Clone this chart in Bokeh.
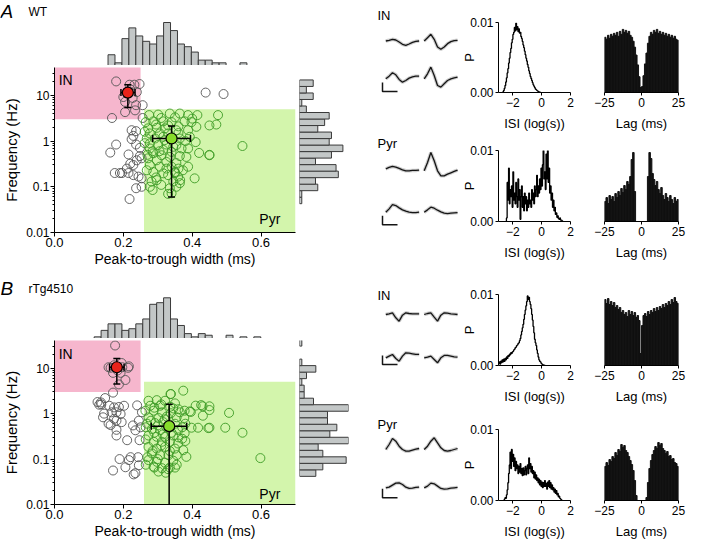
import numpy as np
from bokeh.plotting import figure
from bokeh.layouts import row, column
from bokeh.models import Range1d, FixedTicker, CustomJSTickFormatter
from bokeh.core.properties import value
from bokeh.embed import file_html
from bokeh.resources import INLINE

FONT = "Liberation Sans"

# ------------------------------------------------------------------ data
# classification regions
IN_MAX_W, IN_MIN_F = 0.25, 3.0
PYR_MIN_W, PYR_MAX_F = 0.26, 5.0

# Panel A (WT) scatter: (peak-to-trough width ms, frequency Hz)
a_in = [(0.179, 20.2), (0.218, 17.1), (0.232, 17.1), (0.247, 17.7), (0.200, 9.2), (0.205, 7.2),
        (0.227, 8.8), (0.234, 4.7), (0.205, 4.3), (0.167, 3.2), (0.237, 6.1), (0.220, 13.5), (0.239, 11.8)]
a_other = [(0.224, 1.73), (0.237, 1.65), (0.229, 1.30), (0.224, 1.10), (0.179, 0.84), (0.162, 0.56),
           (0.237, 0.84), (0.248, 0.71), (0.215, 0.51), (0.248, 0.47), (0.239, 0.38), (0.253, 0.42),
           (0.229, 0.30), (0.210, 0.25), (0.196, 0.20), (0.215, 0.20), (0.229, 0.18), (0.244, 0.167),
           (0.253, 0.153), (0.237, 0.093), (0.253, 0.10), (0.218, 0.054), (0.256, 6.1), (0.256, 3.2),
           (0.439, 11.5), (0.491, 10.7), (0.220, 0.32), (0.190, 0.20), (0.175, 0.20)]
a_pyr = [(0.275, 3.7), (0.301, 3.8), (0.335, 4.0), (0.364, 4.0), (0.388, 3.7), (0.415, 3.7), (0.475, 3.7),
         (0.287, 2.7), (0.316, 2.7), (0.340, 2.6), (0.378, 2.7), (0.398, 2.6), (0.450, 2.2), (0.412, 2.05),
         (0.272, 1.9), (0.297, 1.95), (0.321, 1.9), (0.354, 1.73), (0.388, 1.73),
         (0.277, 1.47), (0.306, 1.47), (0.330, 1.47),
         (0.268, 1.14), (0.292, 1.14), (0.316, 1.24), (0.364, 1.14), (0.393, 1.24),
         (0.277, 0.89), (0.301, 0.82), (0.325, 0.84), (0.354, 0.82), (0.388, 0.69), (0.369, 0.69),
         (0.277, 0.69), (0.316, 0.64), (0.340, 0.58),
         (0.287, 0.54), (0.311, 0.49), (0.335, 0.45), (0.364, 0.47), (0.383, 0.45), (0.450, 0.49), (0.272, 0.42),
         (0.297, 0.38), (0.325, 0.35), (0.354, 0.33), (0.277, 0.30), (0.306, 0.275), (0.340, 0.275), (0.388, 0.275),
         (0.268, 0.23), (0.287, 0.21), (0.316, 0.197), (0.350, 0.21), (0.373, 0.23), (0.297, 0.14), (0.330, 0.18),
         (0.359, 0.167), (0.407, 0.153),
         (0.282, 0.13), (0.345, 0.13), (0.364, 0.12), (0.354, 0.10), (0.335, 0.093), (0.277, 0.10), (0.340, 0.072),
         (0.330, 0.07),
         (0.262, 1.6), (0.262, 0.9), (0.270, 0.5), (0.310, 3.2), (0.350, 3.3), (0.320, 1.05), (0.345, 0.75),
         (0.305, 0.6), (0.285, 0.6), (0.325, 0.25), (0.360, 0.25), (0.295, 0.16), (0.310, 0.11), (0.350, 0.2),
         (0.420, 0.55), (0.380, 1.0), (0.410, 0.95), (0.360, 1.5), (0.400, 3.1), (0.295, 2.3), (0.330, 2.2),
         (0.360, 2.1), (0.265, 2.6), (0.285, 0.085), (0.365, 0.14), (0.470, 2.3), (0.546, 0.78), (0.450, 0.5)]
# mean (x, y), x-error (lo, hi), y-error (lo, hi)
a_in_mean = (0.213, 11.5, 0.193, 0.234, 5.4, 17.1)
a_pyr_mean = (0.340, 1.14, 0.285, 0.395, 0.06, 2.15)

# Panel B (rTg4510)
b_in = [(0.176, 31.6), (0.173, 11.6), (0.157, 10.5), (0.197, 10.5), (0.214, 10.2), (0.170, 7.9), (0.192, 7.9),
        (0.206, 5.5), (0.187, 4.4), (0.163, 10.2), (0.183, 8.9), (0.216, 11.0), (0.195, 13.0)]
b_other = [(0.135, 1.76), (0.147, 2.2), (0.130, 1.57), (0.159, 1.49), (0.173, 1.37), (0.187, 1.40), (0.202, 1.49),
           (0.240, 1.52), (0.180, 1.07), (0.192, 0.98), (0.173, 0.77), (0.157, 0.60), (0.180, 0.70), (0.195, 0.65),
           (0.228, 0.55), (0.245, 0.70), (0.254, 1.07), (0.180, 0.44), (0.180, 0.33), (0.211, 0.26), (0.235, 0.43),
           (0.247, 0.26), (0.250, 0.50), (0.189, 0.10), (0.216, 0.095), (0.243, 0.11), (0.221, 0.11), (0.206, 0.066),
           (0.170, 0.056), (0.235, 0.049), (0.230, 0.046), (0.245, 0.073), (0.141, 0.83), (0.166, 1.07),
           (0.125, 1.8), (0.136, 1.6), (0.144, 1.0), (0.163, 0.56), (0.170, 2.9)]
b_pyr = [(0.338, 2.7), (0.374, 3.2), (0.273, 1.92), (0.297, 1.98), (0.321, 1.92), (0.350, 1.68), (0.278, 1.49),
         (0.307, 1.49), (0.336, 1.42), (0.426, 1.54), (0.450, 1.20), (0.393, 1.12), (0.378, 1.16), (0.431, 0.90),
         (0.264, 1.16), (0.288, 1.16), (0.312, 1.07), (0.338, 1.02), (0.364, 1.07), (0.273, 0.83), (0.302, 0.80),
         (0.326, 0.86), (0.355, 0.83), (0.377, 0.80), (0.269, 0.60), (0.292, 0.62), (0.316, 0.65), (0.350, 0.60),
         (0.371, 0.50), (0.398, 0.49), (0.417, 0.49), (0.450, 0.49), (0.283, 0.46), (0.307, 0.43), (0.359, 0.43),
         (0.378, 0.37), (0.273, 0.33), (0.297, 0.31), (0.321, 0.31), (0.345, 0.33), (0.371, 0.28), (0.288, 0.24),
         (0.312, 0.24), (0.335, 0.24), (0.359, 0.22), (0.273, 0.185), (0.297, 0.17), (0.321, 0.185), (0.350, 0.17),
         (0.374, 0.157), (0.283, 0.133), (0.307, 0.122), (0.331, 0.122), (0.355, 0.122), (0.383, 0.112),
         (0.273, 0.095), (0.297, 0.087), (0.321, 0.083), (0.345, 0.092), (0.288, 0.068), (0.312, 0.063),
         (0.335, 0.065), (0.302, 0.053), (0.323, 0.05),
         (0.280, 0.7), (0.300, 0.55), (0.325, 0.5), (0.340, 0.38), (0.290, 0.38), (0.265, 0.27), (0.310, 0.2),
         (0.335, 0.15), (0.360, 0.3), (0.285, 0.15), (0.300, 0.1), (0.355, 0.075), (0.270, 0.11), (0.265, 0.5),
         (0.320, 0.75), (0.345, 1.3), (0.290, 1.35), (0.310, 1.6), (0.360, 1.25), (0.330, 0.06), (0.350, 0.065),
         (0.315, 0.35), (0.380, 0.6), (0.380, 0.25), (0.265, 0.075), (0.290, 0.065),
         (0.507, 1.04), (0.546, 0.38), (0.496, 0.49), (0.598, 0.105), (0.447, 0.48), (0.430, 1.45),
         (0.337, 2.7), (0.396, 1.09), (0.410, 1.5), (0.450, 1.45)]
b_in_mean = (0.181, 10.5, 0.160, 0.202, 4.5, 16.3)
b_pyr_mean = (0.333, 0.53, 0.281, 0.384, 0.004, 1.6)

# width histograms (bin width 0.02 ms)
W_BIN = 0.02
a_whist_start = 0.16
a_whist = [4, 1, 10, 14, 11, 9, 8, 11, 16, 13, 8, 7, 5, 2, 2, 1, 1, 0, 0, 1]
b_whist_start = 0.12
b_whist = [1, 5, 9, 9, 5, 6, 9, 12, 21, 22, 25, 12, 8, 3, 1, 3, 2, 0, 0, 2, 0, 1, 0, 1]

# frequency histograms (log10 bins, bottom to top)
F_BIN = 0.1425
a_fhist_lo = -1.37
a_fhist = [1, 1, 8, 7, 17, 16, 7, 14, 19, 13, 14, 8, 11, 13, 3, 1, 6, 3, 6]
b_fhist_lo = -1.3625
b_fhist = [7, 10, 20, 10, 8, 21, 13, 16, 12, 12, 21, 6, 2, 2, 1, 3, 7, 1, 0, 0, 1]

# mean waveforms (amplitude, arbitrary units, 11 samples)
wf_a_in = [[0, 2, 5, 3, -3, -10, -13, -9, -4, -1, 0], [0, 10, 20, 5, -18, -25, -18, -8, -2, 1, 2],
           [0, 8, 18, 12, -2, -10, -5, 2, 6, 8, 8], [0, 15, 35, 10, -20, -25, -15, -5, 0, 3, 5]]
wf_a_pyr = [[0, 4, 7, 5, 1, -3, -6, -6, -5, -5, -4], [-6, 19, 49, 24, -6, -21, -21, -16, -12, -8, -4],
            [0, 10, 23, 20, 13, 7, 3, 0, -1, -1, 0], [0, 7, 15, 12, 6, 1, -3, -4, -3, -2, -1]]
wf_b_in = [[0, 2, 5, -10, -20, -2, 5, 3, 2, 2, 2], [0, 3, 5, -8, -20, -2, 5, 4, 2, 1, 0],
           [0, 5, 10, -2, -10, 5, 15, 14, 12, 10, 10], [0, 2, 5, -5, -15, 0, 7, 7, 5, 3, 2]]
wf_b_pyr = [[0, 15, 33, 25, 10, 0, -5, -5, -2, 1, 3], [0, 10, 25, 35, 20, 5, -3, -5, -3, 0, 3],
            [0, 2, 8, 14, 15, 10, 2, -2, -1, 1, 2], [0, 5, 14, 12, 5, -2, -4, -3, -1, 0, 1]]
SCALE_AMP, SCALE_T = 27, 4.5   # scale bar (amplitude units, samples)

# ISI distributions (P x 1e-3, bins of 0.05 log(s))
ISI_BW = 0.05
isi_a_in_x0 = -2.7
isi_a_in = [0.1, 0.3, 0.6, 1.0, 1.5, 2.1, 2.8, 3.4, 4.2, 4.9, 5.7, 6.3, 7.1, 7.6, 8.3, 8.6, 9.3, 8.8, 9.9, 9.0,
            9.4, 8.7, 9.1, 8.5, 8.6, 8.0, 7.7, 7.3, 6.8, 6.4, 5.9, 5.4, 4.9, 4.5, 4.0, 3.6, 3.1, 2.7, 2.3, 2.0,
            1.7, 1.4, 1.1, 0.9, 0.7, 0.5, 0.4, 0.3, 0.2, 0.15, 0.1, 0.05, 0.0]
isi_a_pyr_x0 = -2.45
isi_a_pyr = [0.5, 5.5, 3.0, 7.5, 2.5, 4.5, 3.5, 5.0, 2.0, 7.0, 3.0, 4.0, 2.5, 5.5, 3.5, 2.0, 6.0, 3.0, 4.5, 0.3,
             3.5, 5.0, 2.0, 3.5, 1.5, 4.0, 2.5, 3.5, 1.5, 3.0, 2.0, 4.0, 2.5, 3.0, 2.0, 4.5, 3.0, 4.0, 2.5, 5.0,
             3.5, 4.5, 6.5, 3.5, 5.0, 4.0, 6.0, 4.5, 7.5, 5.0, 8.0, 10.0, 6.0, 7.0, 4.5, 9.5, 6.0, 10.0, 5.5, 7.5,
             4.0, 5.0, 3.0, 4.0, 2.0, 3.0, 1.5, 2.0, 1.0, 1.2, 0.6, 0.8, 0.4, 0.3, 0.5, 0.2, 0.2, 0.1, 0.0]
isi_b_in_x0 = -3.0
isi_b_in = [0.3, 0.5, 0.2, 0.6, 0.4, 0.8, 0.5, 0.9, 0.6, 1.0, 0.8, 1.2, 1.0, 1.4, 1.3, 1.6, 1.5, 1.8, 1.7, 1.9,
            2.0, 2.2, 2.3, 2.5, 2.6, 2.8, 2.9, 3.1, 3.2, 3.5, 3.8, 4.3, 4.8, 5.3, 5.8, 6.5, 7.2, 7.8, 8.4, 9.0,
            9.8, 9.3, 9.6, 9.0, 8.6, 8.0, 7.2, 6.4, 5.5, 4.6, 3.7, 3.2, 2.8, 2.2, 1.7, 1.2, 0.8, 0.6, 0.5, 0.3,
            0.2, 0.1, 0.1, 0.05, 0.0]
isi_b_pyr_x0 = -2.6
isi_b_pyr = [0.2, 0.4, 0.3, 0.8, 1.5, 2.5, 3.8, 5.0, 6.8, 4.5, 7.2, 5.5, 6.5, 4.8, 6.0, 4.2, 5.5, 4.5, 5.0, 3.8,
             4.8, 4.0, 5.2, 3.8, 4.5, 3.5, 4.6, 3.6, 4.2, 4.8, 3.6, 4.5, 5.0, 3.8, 6.0, 4.5, 5.2, 4.0, 4.8, 3.8,
             4.2, 3.2, 4.0, 3.0, 3.6, 2.8, 3.2, 2.5, 3.0, 2.2, 2.8, 2.0, 2.6, 1.8, 2.5, 2.0, 2.8, 2.0, 2.4, 1.6,
             2.6, 2.0, 2.8, 1.8, 2.5, 1.6, 2.2, 1.5, 1.8, 1.2, 1.6, 1.0, 1.4, 0.8, 1.0, 0.5, 0.6, 0.3, 0.2, 0.1,
             0.0]

# autocorrelograms (counts per 1 ms bin, -25..25 ms)
acg_a_in = [56, 54, 58, 55, 59, 57, 60, 58, 61, 57, 62, 59, 64, 61, 63, 60, 62, 58, 56, 52, 46, 38, 28, 16, 5,
            6, 17, 29, 40, 50, 57, 61, 59, 63, 61, 64, 60, 62, 59, 61, 58, 60, 57, 59, 56, 58, 55, 57, 54, 53]
acg_a_pyr = [20, 24, 18, 26, 22, 25, 20, 28, 24, 30, 26, 33, 29, 36, 32, 40, 37, 45, 62, 69, 30, 0, 0, 0, 0,
             0, 0, 0, 0, 45, 69, 63, 48, 42, 36, 40, 32, 28, 34, 26, 22, 28, 24, 20, 26, 22, 18, 24, 20, 22]
acg_b_in = [66, 62, 67, 61, 64, 60, 63, 58, 60, 56, 58, 53, 55, 51, 53, 49, 55, 51, 54, 50, 53, 48, 50, 45, 12,
            40, 50, 52, 49, 54, 51, 55, 53, 57, 54, 58, 55, 59, 57, 61, 58, 62, 60, 64, 61, 66, 63, 68, 64, 62]
acg_b_pyr = [34, 38, 35, 41, 39, 44, 42, 48, 45, 51, 49, 56, 53, 55, 50, 48, 44, 40, 36, 30, 20, 5, 0, 0, 0,
             0, 0, 0, 3, 18, 32, 40, 46, 50, 54, 52, 58, 55, 57, 52, 50, 47, 49, 44, 45, 41, 42, 38, 37, 34]

# ------------------------------------------------------------------ style
PINK, GREEN = "#f6b6cd", "#d3f5ac"
GREY_PT, GREEN_PT = "#555555", "#3d9b26"
HIST_FILL, HIST_LINE = "#c3c7c7", "#3a3a3a"
RED_MEAN, GREEN_MEAN = "#e8231b", "#86dc2a"

LEFT_W = 360
SC_L, SC_FW = 52, 243
S = SC_FW / 0.7          # px per ms
Y_RANGE = (0.01, 40.7)


def base_fig(w, h, xr, yr, l, r, t, b, xaxis=False, yaxis=False, ylog=False):
    p = figure(width=w, height=h, x_range=Range1d(*xr), y_range=Range1d(*yr),
               y_axis_type="log" if ylog else "linear",
               x_axis_location="below" if xaxis else None,
               y_axis_location="left" if yaxis else None,
               toolbar_location=None, output_backend="svg",
               min_border_left=l, min_border_right=r, min_border_top=t, min_border_bottom=b,
               outline_line_color=None, background_fill_color="white", border_fill_color="white")
    if "frame_align" in p.properties():
        p.frame_align = False
    for g in p.grid:
        g.visible = False
    return p


def style_axis(ax, tick_font="12px", label_font="13px", tick_out=4, lab_standoff=1, axl_standoff=2):
    ax.axis_line_color = "black"
    ax.axis_line_width = 1
    ax.major_tick_line_color = "black"
    ax.major_tick_out = tick_out
    ax.major_tick_in = 0
    ax.minor_tick_line_color = "black"
    ax.minor_tick_out = 2
    ax.minor_tick_in = 0
    ax.major_label_text_font = FONT
    ax.major_label_text_font_size = tick_font
    ax.major_label_text_color = "black"
    ax.axis_label_text_font = FONT
    ax.axis_label_text_font_size = label_font
    ax.axis_label_text_font_style = "normal"
    ax.axis_label_text_color = "black"
    ax.major_label_standoff = lab_standoff
    ax.axis_label_standoff = axl_standoff


def txt(p, x, y, s, size="13px", align="left", baseline="middle", style="normal"):
    p.text(x=[x], y=[y], text=[s], text_font=value(FONT), text_font_size=value(size),
           text_align=align, text_baseline=baseline, text_font_style=style, text_color="black")


def top_hist(h, ymax_px, start, counts, letter, name, label_py):
    c = np.array(counts, dtype=float)
    ymax = c.max() * h / ymax_px
    p = base_fig(LEFT_W, h, (-SC_L / S, (LEFT_W - SC_L) / S), (0, ymax), 0, 0, 0, 0)
    left = start + W_BIN * np.arange(len(c))
    k = c > 0
    p.quad(left=left[k], right=left[k] + W_BIN, bottom=0, top=c[k],
           fill_color=HIST_FILL, line_color=HIST_LINE, line_width=1)
    ly = (h - label_py) / h * ymax
    txt(p, (0 - SC_L) / S, ly, letter, size="19px", style="italic")
    txt(p, (28 - SC_L) / S, ly, name, size="12px")
    return p


def scatter_panel(h, t, b, pin, pother, ppyr, min_, mpyr, in_y, pyr_y):
    p = base_fig(SC_L + SC_FW + 2, h, (0, 0.7), Y_RANGE, SC_L, 2, t, b, xaxis=True, yaxis=True, ylog=True)
    p.quad(left=[0], right=[IN_MAX_W], bottom=[IN_MIN_F], top=[1000], fill_color=PINK, line_color=None)
    p.quad(left=[PYR_MIN_W], right=[0.7], bottom=[1e-4], top=[PYR_MAX_F], fill_color=GREEN, line_color=None)
    for pts, col in ((pother, GREY_PT), (pin, GREY_PT), (ppyr, GREEN_PT)):
        xs = [q[0] for q in pts]
        ys = [q[1] for q in pts]
        p.scatter(xs, ys, size=9, fill_color=None, line_color=col, line_width=1, line_alpha=0.9)
    for (mx, my, xlo, xhi, ylo, yhi), col in ((min_, RED_MEAN), (mpyr, GREEN_MEAN)):
        p.segment(x0=[xlo, mx], y0=[my, ylo], x1=[xhi, mx], y1=[my, yhi], line_color="black", line_width=1.5)
        p.scatter([mx, mx], [ylo, yhi], marker="dash", size=7, line_color="black", line_width=1.5)
        p.scatter([xlo, xhi], [my, my], marker="dash", size=7, angle=np.pi / 2, line_color="black",
                  line_width=1.5)
        p.scatter([mx], [my], size=11, fill_color=col, line_color="black", line_width=1.2)
    txt(p, 0.012, in_y, "IN", baseline="top", size="14px")
    txt(p, 0.595, pyr_y, "Pyr", baseline="alphabetic", size="14px")
    xa, ya = p.xaxis[0], p.yaxis[0]
    style_axis(xa, tick_font="13px", label_font="14px", tick_out=4, lab_standoff=1, axl_standoff=1)
    style_axis(ya, tick_font="12px", label_font="15px", tick_out=4, lab_standoff=1, axl_standoff=3)
    xa.ticker = FixedTicker(ticks=[0, 0.2, 0.4, 0.6])
    xa.formatter = CustomJSTickFormatter(code="return tick.toFixed(1);")
    xa.axis_label = "Peak-to-trough width (ms)"
    minors = [m * 10.0 ** e for e in range(-2, 2) for m in range(2, 10) if m * 10.0 ** e < 40]
    ya.ticker = FixedTicker(ticks=[0.01, 0.1, 1, 10], minor_ticks=minors)
    ya.formatter = CustomJSTickFormatter(code="return String(tick);")
    ya.axis_label = "Frequency (Hz)"
    return p


def right_hist(h, t, b, fw, lo, counts, xmax):
    c = np.array(counts, dtype=float)
    w = LEFT_W - (SC_L + SC_FW + 2)
    p = base_fig(w, h, (0, xmax), Y_RANGE, 2, w - 2 - fw, t, b, ylog=True)
    e = lo + F_BIN * np.arange(len(c) + 1)
    k = c > 0
    p.quad(left=0, right=c[k], bottom=10 ** e[:-1][k], top=10 ** e[1:][k],
           fill_color=HIST_FILL, line_color=HIST_LINE, line_width=1)
    return p


WAVE_W = 99
DT_PX = 10 / 3.0
AMP_DIV = 3.0
WAVE_COLS = (25.3, 63.7)


def wave_fig(h, label, label_y, waves, top_base, bot_base, bar_bottom):
    p = base_fig(WAVE_W, h, (0, WAVE_W), (h, 0), 0, 0, 0, 0)
    txt(p, 17, label_y, label)
    for k, wv in enumerate(waves):
        x0 = WAVE_COLS[k % 2]
        base = (top_base, bot_base)[k // 2]
        xs = x0 + np.arange(len(wv)) * DT_PX
        ys = base - np.array(wv, dtype=float) / AMP_DIV
        p.line(xs, ys, line_color="#c2c2c2", line_width=3.5, line_alpha=0.8)
        p.line(xs, ys, line_color="#151515", line_width=1.3)
    bx = 22
    p.line([bx, bx, bx + SCALE_T * DT_PX], [bar_bottom - SCALE_AMP / AMP_DIV, bar_bottom, bar_bottom],
           line_color="#151515", line_width=1.5)
    return p


MINUS_FMT = "return tick < 0 ? '\u2212' + Math.abs(tick) : String(tick);"


def isi_fig(h, t, b, x0, vals):
    p = base_fig(117, h, (-3, 2), (0, 0.01), 34, 6, t, b, xaxis=True, yaxis=True)
    v = np.array(vals, dtype=float) * 1e-3
    edges = x0 + ISI_BW * np.arange(len(v) + 1)
    xs = np.concatenate([[edges[0]], edges])
    ys = np.concatenate([[0.0], v, [0.0]])
    p.step(xs, ys, mode="after", line_color="black", line_width=1.3)
    xa, ya = p.xaxis[0], p.yaxis[0]
    style_axis(xa, tick_out=3, lab_standoff=2, axl_standoff=6)
    style_axis(ya, tick_out=3, lab_standoff=2, axl_standoff=-10)
    xa.ticker = FixedTicker(ticks=[-2, 0, 2])
    xa.formatter = CustomJSTickFormatter(code=MINUS_FMT)
    xa.axis_label = "ISI (log(s))"
    ya.ticker = FixedTicker(ticks=[0, 0.01])
    ya.formatter = CustomJSTickFormatter(code="return tick.toFixed(2);")
    ya.axis_label = "P"
    return p


def acg_fig(h, t, b, vals):
    p = base_fig(110, h, (-25, 25), (0, 71), 28, 8, t, b, xaxis=True)
    lags = np.arange(-25, 25)
    p.quad(left=lags, right=lags + 1, bottom=0, top=vals, fill_color="#111111", line_color="#111111",
           line_width=1)
    xa = p.xaxis[0]
    style_axis(xa, tick_out=3, lab_standoff=2, axl_standoff=6)
    xa.ticker = FixedTicker(ticks=[-25, 0, 25])
    xa.formatter = CustomJSTickFormatter(code=MINUS_FMT)
    xa.axis_label = "Lag (ms)"
    return p


# ------------------------------------------------------------------ left column
topA = top_hist(65, 43, a_whist_start, a_whist, "A", "WT", 11)
scA = scatter_panel(211, 2, 44, a_in, a_other, a_pyr, a_in_mean, a_pyr_mean, 33, 0.02)
rhA = right_hist(211, 2, 44, 45, a_fhist_lo, a_fhist, 19.7)
topB = top_hist(62, 40.7, b_whist_start, b_whist, "B", "rTg4510", 12)
scB = scatter_panel(203, 2, 36, b_in, b_other, b_pyr, b_in_mean, b_pyr_mean, 31, 0.017)
rhB = right_hist(203, 2, 36, 49, b_fhist_lo, b_fhist, 21)
left = column(topA, row(scA, rhA), topB, row(scB, rhB))

# ------------------------------------------------------------------ right column
r1 = row(wave_fig(133, "IN", 15, wf_a_in, 40.5, 78.3, 91),
         isi_fig(133, 22, 40, isi_a_in_x0, isi_a_in), acg_fig(133, 22, 40, acg_a_in))
r2 = row(wave_fig(132, "Pyr", 10, wf_a_pyr, 35.3, 78.7, 91.3),
         isi_fig(132, 17, 44, isi_a_pyr_x0, isi_a_pyr), acg_fig(132, 17, 44, acg_a_pyr))
r3 = row(wave_fig(144, "IN", 30, wf_b_in, 49, 92.3, 99),
         isi_fig(144, 29, 44, isi_b_in_x0, isi_b_in), acg_fig(144, 29, 44, acg_b_in))
r4 = row(wave_fig(132, "Pyr", 15, wf_b_pyr, 40, 78.3, 88.3),
         isi_fig(132, 20, 41, isi_b_pyr_x0, isi_b_pyr), acg_fig(132, 20, 41, acg_b_pyr))
right = column(r1, r2, r3, r4)

layout = row(left, right)
open("out.html", "w").write(file_html(layout, INLINE))
